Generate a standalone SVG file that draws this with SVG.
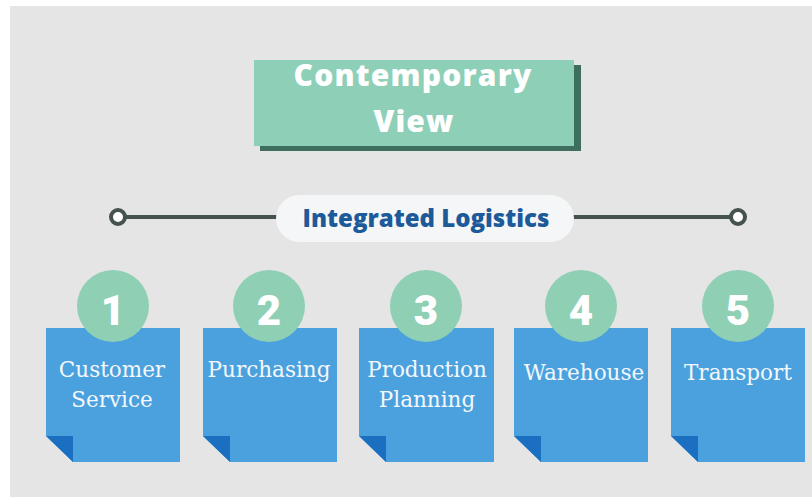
<svg xmlns="http://www.w3.org/2000/svg" width="812" height="497" viewBox="0 0 812 497">
<style>
.card{fill:#4aa1dd}
.fold{fill:#1b6fc1}
.num{fill:#8fd0b5}
.numt{font-family:Roboto,"DejaVu Sans",sans-serif;font-weight:900;font-size:42px;fill:#ffffff;text-anchor:middle}
.lbl{font-family:"DejaVu Serif","Liberation Serif",serif;font-size:21.5px;fill:#f4f8fc;text-anchor:middle}
.ttl{font-family:"Open Sans","Liberation Sans",sans-serif;font-weight:800;font-size:30px;letter-spacing:1.2px;fill:#ffffff;text-anchor:middle}
</style>
<rect x="0" y="0" width="812" height="497" fill="#ffffff"/>
<rect x="10" y="6" width="802" height="491" fill="#e5e5e5"/>
<g id="title">
<rect x="260" y="65" width="321" height="86" fill="#3e6e60"/>
<rect x="254" y="60" width="320" height="86" fill="#8ecfb8"/>
<text class="ttl" x="413" y="86">Contemporary</text>
<text class="ttl" x="414" y="132">View</text>
</g>
<g id="connectors">
<line x1="118" y1="217" x2="280" y2="217" stroke="#46524f" stroke-width="4"/>
<line x1="572" y1="217" x2="738" y2="217" stroke="#46524f" stroke-width="4"/>
<circle cx="118" cy="217" r="7" fill="#ffffff" stroke="#46524f" stroke-width="4"/>
<circle cx="738" cy="217" r="7" fill="#ffffff" stroke="#46524f" stroke-width="4"/>
</g>
<g id="integrated">
<rect x="276" y="195" width="298" height="47" rx="23.5" fill="#f5f6f7"/>
<text x="426" y="227" font-family="'Open Sans','Liberation Sans',sans-serif" font-weight="800" font-size="24" fill="#1d5a9a" text-anchor="middle">Integrated Logistics</text>
</g>
<g id="step1">
<path class="card" d="M46 328H180V462H73L46 436Z"/>
<path class="fold" d="M46 436H73V462Z"/>
<circle class="num" cx="113" cy="306" r="36"/>
<text class="numt" x="113" y="325">1</text>
<text class="lbl" x="112" y="377">Customer</text>
<text class="lbl" x="112" y="407">Service</text>
</g>
<g id="step2">
<path class="card" d="M203 328H337V462H230L203 436Z"/>
<path class="fold" d="M203 436H230V462Z"/>
<circle class="num" cx="269" cy="306" r="36"/>
<text class="numt" x="269" y="325">2</text>
<text class="lbl" x="269" y="377">Purchasing</text>
</g>
<g id="step3">
<path class="card" d="M359 328H494V462H386L359 436Z"/>
<path class="fold" d="M359 436H386V462Z"/>
<circle class="num" cx="426" cy="306" r="36"/>
<text class="numt" x="426" y="325">3</text>
<text class="lbl" x="427" y="377">Production</text>
<text class="lbl" x="427" y="407">Planning</text>
</g>
<g id="step4">
<path class="card" d="M514 328H648V462H541L514 436Z"/>
<path class="fold" d="M514 436H541V462Z"/>
<circle class="num" cx="581" cy="306" r="36"/>
<text class="numt" x="581" y="325">4</text>
<text class="lbl" x="584" y="380">Warehouse</text>
</g>
<g id="step5">
<path class="card" d="M671 328H805V462H698L671 436Z"/>
<path class="fold" d="M671 436H698V462Z"/>
<circle class="num" cx="738" cy="306" r="36"/>
<text class="numt" x="738" y="325">5</text>
<text class="lbl" x="738" y="380">Transport</text>
</g>
</svg>
